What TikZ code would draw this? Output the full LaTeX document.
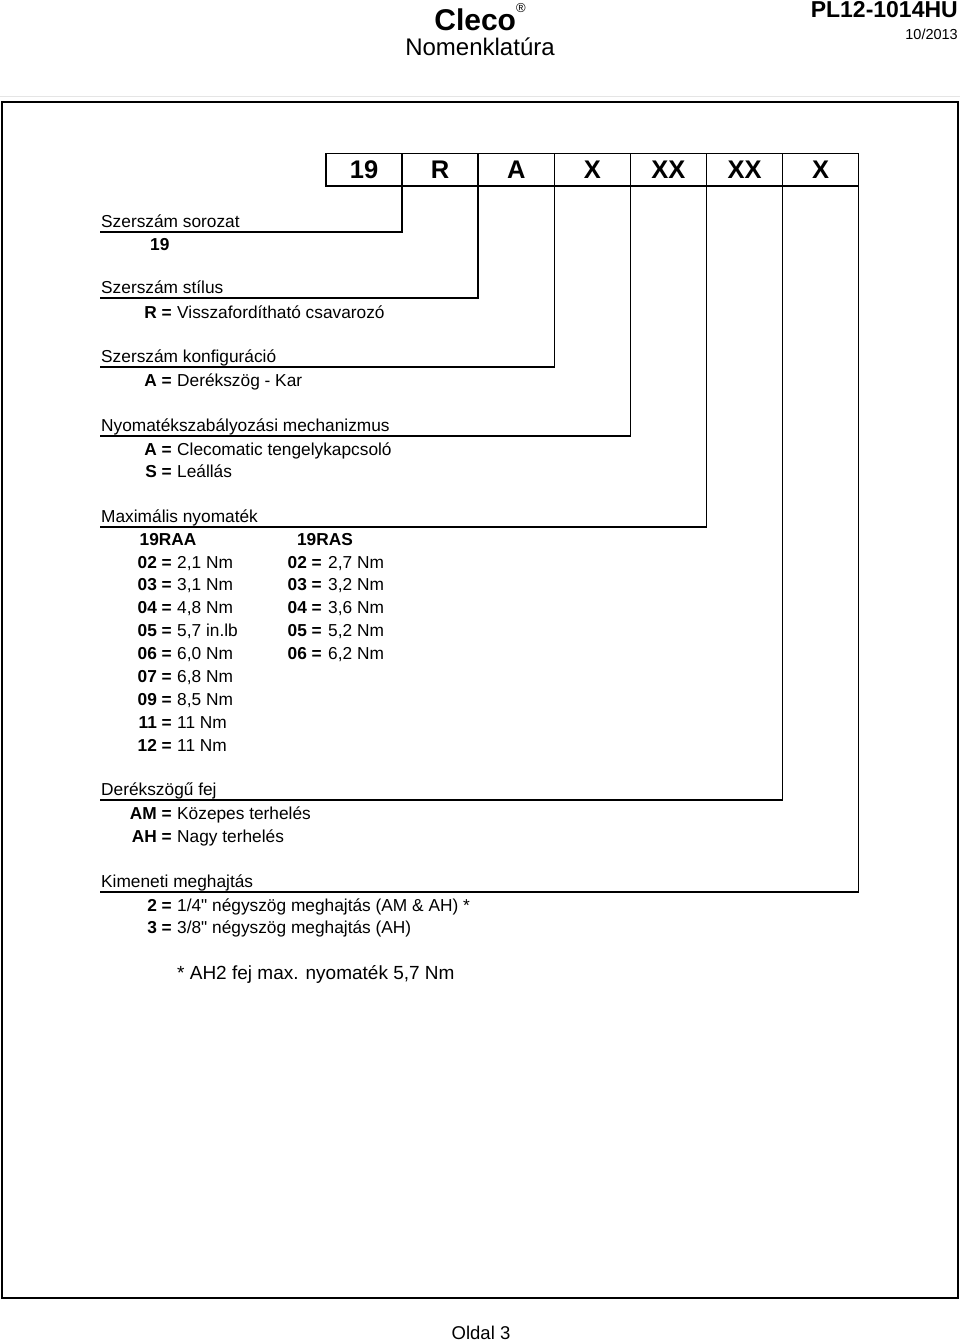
\documentclass[tikz,border=0pt]{standalone}
\usepackage{fontspec}
\setmainfont{Liberation Sans}[Ligatures=TeXOff]
\newcommand{\bodysize}{\fontsize{17.3}{20}\selectfont}

\begin{document}
\begin{tikzpicture}[x=1pt, y=-1pt,
  every node/.style={inner sep=0pt, font=\bodysize},
  cell/.style={draw, line width=1.5pt, outer sep=0pt, minimum width=76.1pt,
    minimum height=32.5pt, font=\bfseries\fontsize{25.5}{25.5}\selectfont},
  rule/.style={line width=1.5pt},
  head/.style={anchor=base west},
  code/.style={anchor=base east, font=\bodysize\bfseries},
  val/.style={anchor=base west}]

  \useasboundingbox (0,0) rectangle (960,1343);

  % header
  \node[font=\bfseries\fontsize{30}{32}\selectfont] (brand) at (480,17)
    {Cleco\raisebox{1.1ex}{\normalfont\fontsize{13}{13}\selectfont ®}};
  \node[font=\fontsize{24}{26}\selectfont] (title) at (480,47) {Nomenklatúra};
  \node[anchor=east, font=\bfseries\fontsize{23}{24}\selectfont] (docno) at (958,10) {PL12-1014HU};
  \node[anchor=east, font=\fontsize{14.5}{15}\selectfont] (date) at (958,34) {10/2013};
  \draw[gray!20, line width=1pt] (0,97) -- (960,97);

  % frame
  \draw[line width=2.5pt] (2,102) rectangle (958,1298);

  % code boxes
  \foreach \t [count=\i] in {19,R,A,X,XX,XX,X}
    \node[cell] (c\i) at ({326+76.1*(\i-0.5)},169.7) {\t};

  % leaders down to the headings
  \foreach \i/\y in {1/232,2/298,3/367,4/436,5/527,6/800,7/892} {
    \coordinate (u\i) at (100,\y);
    \draw[rule] (c\i.south east) |- (u\i);
  }

  % headings
  \node[head] (h1) at (101,227) {Szerszám sorozat};
  \node[head] (h2) at (101,293) {Szerszám stílus};
  \node[head] (h3) at (101,362) {Szerszám konfiguráció};
  \node[head] (h4) at (101,431) {Nyomatékszabályozási mechanizmus};
  \node[head] (h5) at (101,522) {Maximális nyomaték};
  \node[head] (h6) at (101,795) {Derékszögű fej};
  \node[head] (h7) at (101,887) {Kimeneti meghajtás};

  % tool series and style
  \node[anchor=base west, font=\bodysize\bfseries] (ser) at (150,250) {19};
  \node[code] (kR) at (172,318) {R =};
  \node[val] (vR) at (177,318) {Visszafordítható csavarozó};

  % configuration and clutch
  \node[code] (kA) at (172,386) {A =};
  \node[val] (vA) at (177,386) {Derékszög - Kar};
  \node[code] (kC) at (172,455) {A =};
  \node[val] (vC) at (177,455) {Clecomatic tengelykapcsoló};
  \node[code] (kS) at (172,477) {S =};
  \node[val] (vS) at (177,477) {Leállás};

  % max torque
  \node[anchor=base, font=\bodysize\bfseries] (raa) at (168,545) {19RAA};
  \node[anchor=base, font=\bodysize\bfseries] (ras) at (325,545) {19RAS};
  \foreach \k/\v [count=\n] in {02/{2,1 Nm},03/{3,1 Nm},04/{4,8 Nm},05/{5,7 in.lb},
      06/{6,0 Nm},07/{6,8 Nm},09/{8,5 Nm},11/{11 Nm},12/{11 Nm}} {
    \node[code] (ka\n) at (172,{568+22.875*(\n-1)}) {\k\ =};
    \node[val] (va\n) at (177,{568+22.875*(\n-1)}) {\v};
  }
  \foreach \k/\v [count=\n] in {02/{2,7 Nm},03/{3,2 Nm},04/{3,6 Nm},05/{5,2 Nm},06/{6,2 Nm}} {
    \node[code] (ks\n) at (322,{568+22.875*(\n-1)}) {\k\ =};
    \node[val] (vs\n) at (328,{568+22.875*(\n-1)}) {\v};
  }

  % head
  \node[code] (kAM) at (172,819) {AM =};
  \node[val] (vAM) at (177,819) {Közepes terhelés};
  \node[code] (kAH) at (172,842) {AH =};
  \node[val] (vAH) at (177,842) {Nagy terhelés};

  % output drive
  \node[code] (k2) at (172,911) {2 =};
  \node[val] (v2) at (177,911) {1/4" négyszög meghajtás (AM \& AH) *};
  \node[code] (k3) at (172,933) {3 =};
  \node[val] (v3) at (177,933) {3/8" négyszög meghajtás (AH)};

  \node[anchor=base west, font=\fontsize{19}{21}\selectfont] (note) at (177,979)
    {* AH2 fej max. nyomaték 5,7 Nm};

  % footer
  \node[font=\fontsize{18.5}{20}\selectfont] (page) at (481,1333) {Oldal 3};
\end{tikzpicture}
\end{document}
